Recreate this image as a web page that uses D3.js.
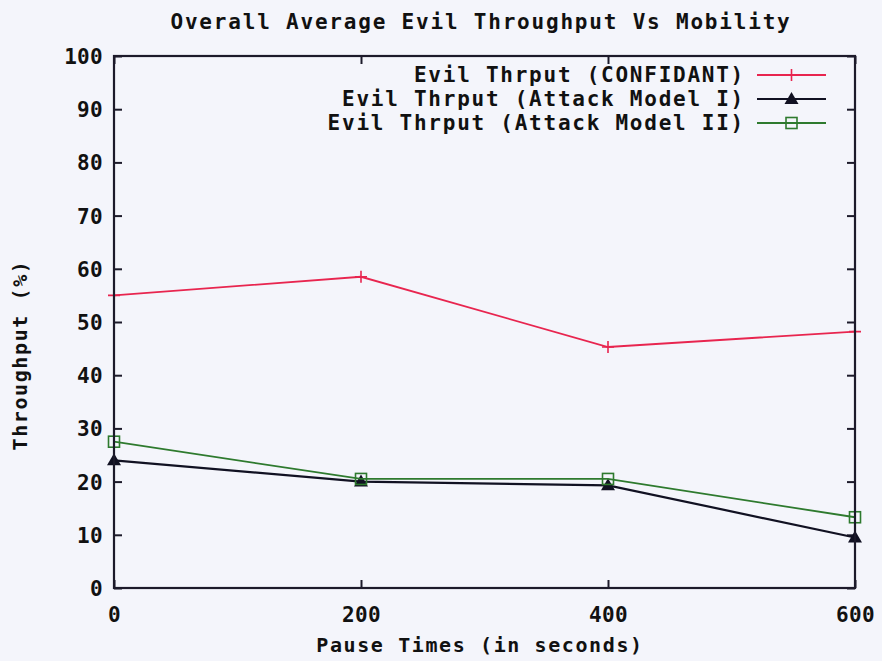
<!DOCTYPE html>
<html>
<head>
<meta charset="utf-8">
<script src="https://cdn.jsdelivr.net/npm/d3@7"></script>
<style>
  html, body { margin: 0; padding: 0; background: #f4f5fb; }
  svg { display: block; }
  text { font-family: "DejaVu Sans Mono", monospace; fill: #111; }
</style>
</head>
<body>
<svg id="chart" width="882" height="661"></svg>
<script>
// Pause times (seconds) on the x axis
const pauseTimes = [0, 200, 400, 600];

// Evil throughput (%) for each scheme
const confidant = [55, 58.5, 45.3, 48.2];
const attackModel1 = [24, 20, 19.3, 9.5];
const attackModel2 = [27.5, 20.5, 20.5, 13.3];

const seriesNames = [
  "Evil Thrput (CONFIDANT)",
  "Evil Thrput (Attack Model I)",
  "Evil Thrput (Attack Model II)"
];

const xTicks = [0, 200, 400, 600];
const yTicks = [0, 10, 20, 30, 40, 50, 60, 70, 80, 90, 100];

const series = [
  { name: seriesNames[0], values: confidant, color: "#e8254f", marker: "plus" },
  { name: seriesNames[1], values: attackModel1, color: "#111122", marker: "triangle" },
  { name: seriesNames[2], values: attackModel2, color: "#2e7a2e", marker: "square" }
];

const svg = d3.select("#chart");
const margin = { left: 114, right: 27, top: 56, bottom: 73 };
const W = 882, H = 661;
const x = d3.scaleLinear().domain([0, 600]).range([margin.left, W - margin.right]);
const y = d3.scaleLinear().domain([0, 100]).range([H - margin.bottom, margin.top]);

const frameColor = "#1c1a2a";

// Title
svg.append("text")
  .attr("x", 481).attr("y", 29)
  .attr("text-anchor", "middle")
  .style("font-size", "21px")
  .style("letter-spacing", "1.8px")
  .style("font-weight", "bold")
  .text("Overall Average Evil Throughput Vs Mobility");

// Y axis with ticks inside the frame (left and right)
const yAxisL = d3.axisLeft(y).tickValues(yTicks).tickSize(-8).tickPadding(11);
svg.append("g").attr("transform", `translate(${margin.left},0)`).call(yAxisL)
  .call(g => g.select(".domain").remove())
  .call(g => g.selectAll("line").attr("stroke", frameColor).attr("stroke-width", 2))
  .call(g => g.selectAll("text")
    .style("font-size", "21px").style("font-weight", "bold")
    .style("letter-spacing", "0.3px").attr("dy", "0.36em"));

const yAxisR = d3.axisRight(y).tickValues(yTicks).tickSize(-8).tickFormat("");
svg.append("g").attr("transform", `translate(${W - margin.right},0)`).call(yAxisR)
  .call(g => g.select(".domain").remove())
  .call(g => g.selectAll("line").attr("stroke", frameColor).attr("stroke-width", 2));

// X axis with ticks inside the frame (bottom and top)
const xAxisB = d3.axisBottom(x).tickValues(xTicks).tickSize(-8).tickPadding(19);
svg.append("g").attr("transform", `translate(0,${H - margin.bottom})`).call(xAxisB)
  .call(g => g.select(".domain").remove())
  .call(g => g.selectAll("line").attr("stroke", frameColor).attr("stroke-width", 2))
  .call(g => g.selectAll("text")
    .style("font-size", "21px").style("font-weight", "bold")
    .style("letter-spacing", "0.3px").attr("dy", "0.71em"));

const xAxisT = d3.axisTop(x).tickValues(xTicks).tickSize(-8).tickFormat("");
svg.append("g").attr("transform", `translate(0,${margin.top})`).call(xAxisT)
  .call(g => g.select(".domain").remove())
  .call(g => g.selectAll("line").attr("stroke", frameColor).attr("stroke-width", 2));

// Axis titles
svg.append("text")
  .attr("x", 480).attr("y", 652)
  .attr("text-anchor", "middle")
  .style("font-size", "20px").style("font-weight", "bold")
  .style("letter-spacing", "1.6px")
  .text("Pause Times (in seconds)");

svg.append("text")
  .attr("transform", `translate(27,${(margin.top + H - margin.bottom) / 2 + 33}) rotate(-90)`)
  .attr("text-anchor", "middle")
  .style("font-size", "20px").style("font-weight", "bold")
  .style("letter-spacing", "1.6px")
  .text("Throughput (%)");

// Legend (right-aligned labels with sample lines)
const legendTextX = 745, legendLine = [757, 826];
const legendY = [75, 99, 123];

// Series lines
const line = d3.line().x((d, i) => x(pauseTimes[i])).y(d => y(d));

function drawMarker(g, cx, cy, type, color) {
  if (type === "plus") {
    g.append("path").attr("d", `M${cx - 6},${cy}H${cx + 6}M${cx},${cy - 6}V${cy + 6}`)
      .attr("stroke", color).attr("stroke-width", 1.6).attr("fill", "none");
  } else if (type === "triangle") {
    g.append("path").attr("d", `M${cx},${cy - 7}L${cx + 7},${cy + 5}L${cx - 7},${cy + 5}Z`)
      .attr("fill", color);
  } else {
    g.append("rect").attr("x", cx - 5.5).attr("y", cy - 5.5).attr("width", 11).attr("height", 11)
      .attr("fill", "none").attr("stroke", color).attr("stroke-width", 1.6);
  }
}

series.forEach((s, k) => {
  const g = svg.append("g");
  g.append("path").datum(s.values)
    .attr("d", line).attr("fill", "none")
    .attr("stroke", s.color).attr("stroke-width", k === 1 ? 2.2 : 1.8);
  s.values.forEach((v, i) => drawMarker(g, x(pauseTimes[i]), y(v), s.marker, s.color));

  const ly = legendY[k];
  svg.append("text").attr("x", legendTextX).attr("y", ly).attr("dy", "0.35em")
    .attr("text-anchor", "end")
    .style("font-size", "21px").style("font-weight", "bold")
    .style("letter-spacing", "1.75px")
    .text(s.name);
  const lg = svg.append("g");
  lg.append("line").attr("x1", legendLine[0]).attr("x2", legendLine[1])
    .attr("y1", ly).attr("y2", ly)
    .attr("stroke", s.color).attr("stroke-width", k === 1 ? 2.2 : 1.8);
  drawMarker(lg, (legendLine[0] + legendLine[1]) / 2, ly, s.marker, s.color);
});

// Plot frame
svg.append("rect")
  .attr("x", margin.left).attr("y", margin.top)
  .attr("width", W - margin.left - margin.right)
  .attr("height", H - margin.top - margin.bottom)
  .attr("fill", "none").attr("stroke", frameColor).attr("stroke-width", 2.2);
</script>
</body>
</html>
